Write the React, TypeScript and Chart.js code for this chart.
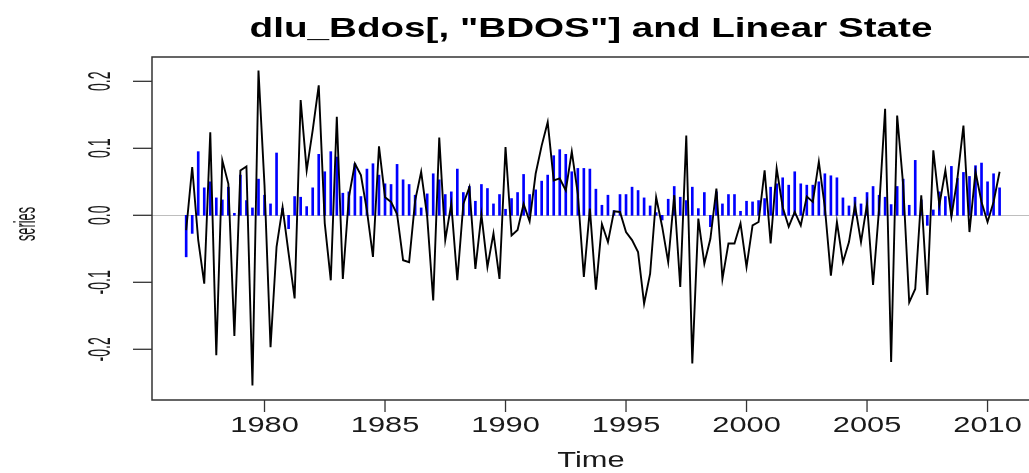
import React, { useEffect, useRef } from 'react';
import { Chart, registerables } from 'chart.js';

Chart.register(...registerables);

// quarterly series, starts 1976 Q4
const START_YEAR = 1976.75;
const PERIODS_PER_YEAR = 4;

const seriesValues = [
  -0.022, 0.072, -0.037, -0.102, 0.124, -0.209, 0.082, 0.047, -0.180, 0.067,
  0.073, -0.254, 0.216, 0.045, -0.197, -0.047, 0.012, -0.057, -0.124, 0.172,
  0.067, 0.127, 0.194, -0.012, -0.097, 0.147, -0.095, 0.027, 0.077, 0.060,
  0.007, -0.062, 0.103, 0.027, 0.020, 0.002, -0.067, -0.070, 0.022, 0.065,
  -0.002, -0.127, 0.116, -0.037, 0.017, -0.097, 0.017, 0.042, -0.080, 0.001,
  -0.077, -0.027, -0.095, 0.102, -0.030, -0.022, 0.017, -0.009, 0.062, 0.104,
  0.139, 0.052, 0.055, 0.037, 0.095, 0.032, -0.092, 0.010, -0.111, -0.013,
  -0.040, 0.006, 0.005, -0.025, -0.037, -0.055, -0.132, -0.087, 0.027, -0.017,
  -0.070, 0.030, -0.107, 0.119, -0.221, -0.005, -0.072, -0.035, 0.040, -0.095,
  -0.042, -0.042, -0.012, -0.077, -0.015, -0.010, 0.067, -0.042, 0.070, 0.012,
  -0.017, 0.005, -0.015, 0.028, 0.020, 0.080, 0.012, -0.090, -0.010, -0.070,
  -0.040, 0.015, -0.040, 0.017, -0.104, 0.010, 0.159, -0.219, 0.149, 0.045,
  -0.130, -0.110, 0.030, -0.119, 0.097, 0.015, 0.067, -0.002, 0.055, 0.134,
  -0.025, 0.065, 0.020, -0.010, 0.020, 0.065,
];

const linearState = [
  -0.062, -0.027, 0.095, 0.041, 0.050, 0.026, 0.023, 0.042, 0.003, 0.060,
  0.022, 0.011, 0.054, 0.030, 0.017, 0.093, 0.010, -0.020, 0.028, 0.027,
  0.013, 0.041, 0.091, 0.065, 0.095, 0.087, 0.033, 0.035, 0.077, 0.028,
  0.069, 0.077, 0.060, 0.047, 0.046, 0.076, 0.053, 0.046, 0.030, 0.011,
  0.032, 0.062, 0.053, 0.031, 0.035, 0.069, 0.034, 0.043, 0.021, 0.046,
  0.040, 0.017, 0.031, 0.009, 0.025, 0.034, 0.061, 0.031, 0.038, 0.051,
  0.060, 0.089, 0.098, 0.091, 0.065, 0.070, 0.070, 0.069, 0.039, 0.015,
  0.030, 0.007, 0.031, 0.031, 0.042, 0.037, 0.026, 0.014, 0.004, -0.007,
  0.024, 0.043, 0.027, 0.022, 0.042, 0.010, 0.034, -0.017, 0.035, 0.017,
  0.031, 0.031, 0.006, 0.021, 0.020, 0.022, 0.025, 0.042, 0.047, 0.056,
  0.045, 0.065, 0.047, 0.045, 0.045, 0.050, 0.062, 0.059, 0.056, 0.026,
  0.014, 0.027, 0.017, 0.034, 0.043, 0.030, 0.027, 0.016, 0.043, 0.054,
  0.015, 0.082, 0.023, -0.015, 0.008, 0.035, 0.028, 0.073, 0.055, 0.064,
  0.058, 0.074, 0.078, 0.050, 0.062, 0.041,
];

const xTickValues = [1980, 1985, 1990, 1995, 2000, 2005, 2010];
const xTickLabels = ['1980', '1985', '1990', '1995', '2000', '2005', '2010'];
const yTickValues = [-0.2, -0.1, 0.0, 0.1, 0.2];
const yTickLabels = ['-0.2', '-0.1', '0.0', '0.1', '0.2'];

const TITLE = 'dlu_Bdos[, "BDOS"] and Linear State';
const X_TITLE = 'Time';
const Y_TITLE = 'series';

const timeOf = (i: number) => START_YEAR + i / PERIODS_PER_YEAR;

const FONT = '"Liberation Sans", Arial, sans-serif';

function drawText(
  ctx: CanvasRenderingContext2D,
  text: string,
  x: number,
  y: number,
  font: string,
  sx: number,
  sy: number,
  rotate: boolean,
  color = '#1a1a1a'
) {
  ctx.save();
  ctx.translate(x, y);
  if (rotate) ctx.rotate(-Math.PI / 2);
  ctx.scale(sx, sy);
  ctx.font = font;
  ctx.textAlign = 'center';
  ctx.textBaseline = 'alphabetic';
  ctx.fillStyle = color;
  ctx.fillText(text, 0, 0);
  ctx.restore();
}

const rAxesPlugin = {
  id: 'rAxes',
  beforeDatasetsDraw(chart: any) {
    const { ctx, chartArea: a, scales } = chart;
    const y0 = Math.round(scales.y.getPixelForValue(0)) + 0.5;
    ctx.save();
    ctx.strokeStyle = '#bebebe';
    ctx.lineWidth = 1;
    ctx.beginPath();
    ctx.moveTo(a.left, y0);
    ctx.lineTo(a.right, y0);
    ctx.stroke();
    ctx.restore();
  },
  afterDraw(chart: any) {
    const { ctx, chartArea: a, scales } = chart;
    ctx.save();
    ctx.strokeStyle = '#333';
    ctx.lineWidth = 1.5;
    ctx.beginPath();
    ctx.moveTo(a.right + 5, a.top);
    ctx.lineTo(a.left, a.top);
    ctx.lineTo(a.left, a.bottom);
    ctx.lineTo(a.right + 5, a.bottom);
    ctx.stroke();

    ctx.lineWidth = 1.3;
    xTickValues.forEach((v, k) => {
      const px = scales.x.getPixelForValue(v);
      ctx.beginPath();
      ctx.moveTo(px, a.bottom);
      ctx.lineTo(px, a.bottom + 12);
      ctx.stroke();
      drawText(ctx, xTickLabels[k], px, 432, `22px ${FONT}`, 1.4, 1, false);
    });
    yTickValues.forEach((v, k) => {
      const py = scales.y.getPixelForValue(v);
      ctx.beginPath();
      ctx.moveTo(a.left - 19, py);
      ctx.lineTo(a.left, py);
      ctx.stroke();
      drawText(ctx, yTickLabels[k], 110, py, `22px ${FONT}`, 0.64, 1.46, true);
    });
    ctx.restore();

    drawText(ctx, TITLE, 591, 37, `bold 28px ${FONT}`, 1.38, 1, false, '#000');
    drawText(ctx, X_TITLE, 591, 467, `22px ${FONT}`, 1.4, 1, false);
    drawText(ctx, Y_TITLE, 35, 224, `22px ${FONT}`, 0.58, 1.3, true);
  },
};

export default function App() {
  const ref = useRef<HTMLCanvasElement | null>(null);

  useEffect(() => {
    if (!ref.current) return;
    const linePoints = seriesValues.map((v, i) => ({ x: timeOf(i), y: v }));
    const barPoints = linearState.map((v, i) => ({ x: timeOf(i), y: v }));
    const chart = new Chart(ref.current, {
      type: 'bar',
      data: {
        datasets: [
          {
            type: 'line',
            label: 'series',
            data: linePoints,
            borderColor: '#000',
            borderWidth: 1.9,
            pointRadius: 0,
            tension: 0,
            fill: false,
            order: 0,
          } as any,
          {
            type: 'bar',
            label: 'Linear State',
            data: barPoints,
            backgroundColor: '#0000ff',
            borderWidth: 0,
            barThickness: 2,
            order: 1,
          } as any,
        ],
      },
      options: {
        responsive: false,
        devicePixelRatio: 1,
        animation: false,
        layout: { padding: { left: 152, right: 0, top: 57, bottom: 73 } },
        plugins: {
          legend: { display: false },
          title: { display: false },
          tooltip: { enabled: false },
        },
        scales: {
          x: {
            type: 'linear',
            display: false,
            offset: false,
            min: 1975.332,
            max: 2011.72,
          },
          y: {
            type: 'linear',
            display: false,
            min: -0.2757,
            max: 0.2363,
          },
        },
      },
      plugins: [rAxesPlugin],
    });
    return () => chart.destroy();
  }, []);

  return (
    <div style={{ position: 'fixed', left: 0, top: 0, width: 1029, height: 473, background: '#fff' }}>
      <canvas ref={ref} width={1029} height={473} style={{ display: 'block' }} />
    </div>
  );
}
